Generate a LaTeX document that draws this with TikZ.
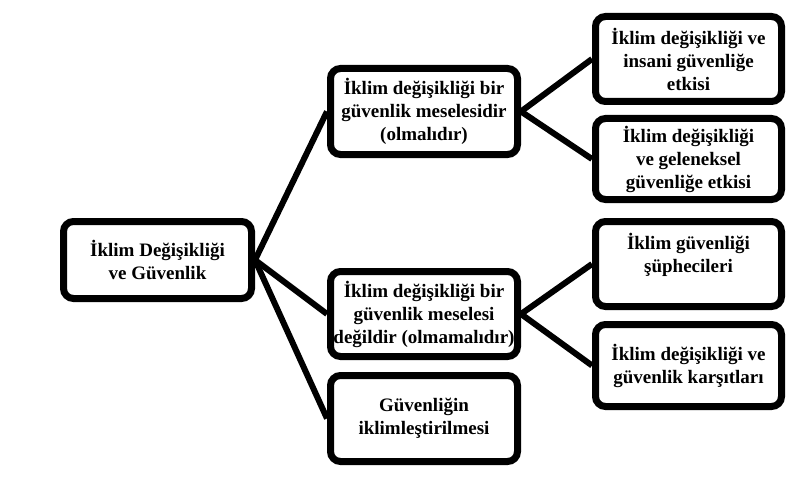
\documentclass[tikz,border=0pt]{standalone}
\usepackage{fontspec}
\setmainfont{Liberation Serif}
\usetikzlibrary{positioning}
\tikzset{
	TopicBox/.style={draw, fill=white, line width=7pt, rounded corners=10pt,
		align=center, inner sep=0pt, minimum width=186pt, minimum height=85pt,
		font=\fontsize{19}{23}\selectfont\bfseries},
	Branch/.style={line width=6pt}
}

\begin{document}
\begin{tikzpicture}[x=1pt, y=-1pt]
		\useasboundingbox (0,0) rectangle (808,484);
		% ana konu
		\node[TopicBox, minimum width=188pt, minimum height=77pt] (Iklim) at (157.5,260) {İklim Değişikliği\\ve Güvenlik};
		% ikinci sütun
		\node[TopicBox, minimum width=187pt, minimum height=86pt] (Mesele) at (424,111.5) {İklim değişikliği bir\\güvenlik meselesidir\\(olmalıdır)};
		\node[TopicBox, minimum width=187pt] (Degil) at (424,314) {İklim değişikliği bir\\güvenlik meselesi\\değildir (olmamalıdır)};
		\node[TopicBox, minimum width=187pt, minimum height=86pt] (Iklimlestirme) at (424,418.5) {Güvenliğin\\iklimleştirilmesi};
		% üçüncü sütun
		\node[TopicBox] (Insani) at (688.5,59) {İklim değişikliği ve\\insani güvenliğe\\etkisi};
		\node[TopicBox, minimum height=81pt] (Geleneksel) at (688.5,159) {İklim değişikliği\\ve geleneksel\\güvenliğe etkisi};
		\node[TopicBox, text depth=22pt] (Supheci) at (688.5,264) {İklim güvenliği\\şüphecileri};
		\node[TopicBox, minimum height=82pt] (Karsit) at (688.5,365.5) {İklim değişikliği ve\\güvenlik karşıtları};
		% dallar
		\draw[Branch] (Iklim.east) -- (Mesele.west);
		\draw[Branch] (Iklim.east) -- (Degil.west);
		\draw[Branch] (Iklim.east) -- (Iklimlestirme.west);
		\draw[Branch] (Mesele.east) -- (Insani.west);
		\draw[Branch] (Mesele.east) -- (Geleneksel.west);
		\draw[Branch] (Degil.east) -- (Supheci.west);
		\draw[Branch] (Degil.east) -- (Karsit.west);
	\end{tikzpicture}
\end{document}
